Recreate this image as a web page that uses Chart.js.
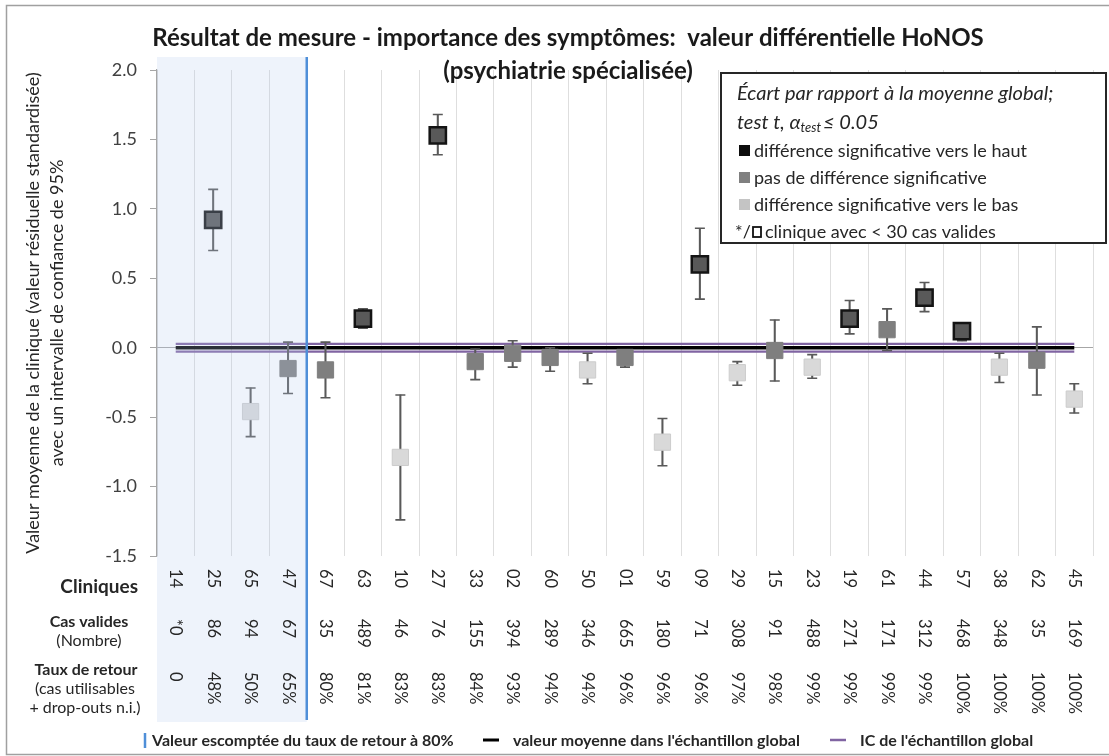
<!DOCTYPE html>
<html>
<head>
<meta charset="utf-8">
<title>HoNOS valeur différentielle</title>
<script src="https://cdn.jsdelivr.net/npm/chart.js@4.4.1/dist/chart.umd.min.js"></script>
<style>
  html, body { margin: 0; padding: 0; background: #fff; }
  #wrap { width: 1109px; height: 756px; position: relative; }
</style>
</head>
<body>
<div id="wrap"><canvas id="honosChart"></canvas></div>
<script>
// clinics, sorted by return rate
const clinics = ['14', '25', '65', '47', '67', '63', '10', '27', '33', '02', '60', '50', '01',
                 '59', '09', '29', '15', '23', '19', '61', '44', '57', '38', '62', '45'];
const casValides = ['*0', '86', '94', '67', '35', '489', '46', '76', '155', '394', '289', '346', '665',
                    '180', '71', '308', '91', '488', '271', '171', '312', '468', '348', '35', '169'];
const tauxRetour = ['0', '48%', '50%', '65%', '80%', '81%', '83%', '83%', '84%', '93%', '94%', '94%', '96%',
                    '96%', '96%', '97%', '98%', '99%', '99%', '99%', '99%', '100%', '100%', '100%', '100%'];

const means  = [null, 0.92, -0.46, -0.15, -0.16, 0.21, -0.79, 1.53, -0.10, -0.04, -0.07, -0.16, -0.07,
                -0.68, 0.60, -0.18, -0.02, -0.14, 0.21, 0.13, 0.36, 0.12, -0.14, -0.09, -0.37];
const ciHigh = [null, 1.14, -0.29, 0.04, 0.04, 0.28, -0.34, 1.68, -0.01, 0.05, 0.00, -0.04, -0.02,
                -0.51, 0.86, -0.10, 0.20, -0.05, 0.34, 0.28, 0.47, 0.18, -0.04, 0.15, -0.26];
const ciLow  = [null, 0.70, -0.64, -0.33, -0.36, 0.14, -1.24, 1.39, -0.23, -0.14, -0.17, -0.26, -0.14,
                -0.85, 0.35, -0.27, -0.24, -0.22, 0.10, -0.02, 0.26, 0.05, -0.25, -0.34, -0.47];
// up = significantly higher, ns = no difference, down = significantly lower
const signif = ['', 'up', 'down', 'ns', 'ns', 'up', 'down', 'up', 'ns', 'ns', 'ns', 'down', 'ns',
                'down', 'up', 'down', 'ns', 'down', 'up', 'ns', 'up', 'up', 'down', 'ns', 'down'];

const globalMean = 0.0;
const globalCI = [-0.028, 0.028];
const expectedRate = 80;

const yTicks = [-1.5, -1.0, -0.5, 0.0, 0.5, 1.0, 1.5, 2.0];

const FONT = 'Lato, "Noto Sans", sans-serif';
const TEXT = '#262626';

const fillFor = { up: '#595959', ns: '#7f7f7f', down: '#d9d9d9', '': 'transparent' };
const borderFor = { up: '#141414', ns: '#7f7f7f', down: '#cccccc', '': 'transparent' };
const borderWFor = { up: 2.5, ns: 1, down: 1, '': 0 };

const extrasPlugin = {
    id: 'extras',
    afterDraw(chart) {
        const { ctx, chartArea, scales: { x } } = chart;
        const half = (x.getPixelForValue(1) - x.getPixelForValue(0)) / 2;
        const cutIdx = tauxRetour.findIndex(t => parseInt(t, 10) >= expectedRate);
        const cutX = x.getPixelForValue(cutIdx) - half;

        ctx.save();
        // clinics below the expected return rate
        ctx.fillStyle = 'rgba(183, 204, 238, 0.235)';
        ctx.fillRect(chartArea.left, 57, cutX - chartArea.left, 722 - 57);
        ctx.strokeStyle = '#4f8fd8';
        ctx.lineWidth = 2.5;
        ctx.beginPath();
        ctx.moveTo(cutX, 57);
        ctx.lineTo(cutX, 720);
        ctx.stroke();

        // data table under the axis (rotated text)
        ctx.fillStyle = TEXT;
        ctx.font = '16.5px ' + FONT;
        ctx.textAlign = 'left';
        ctx.textBaseline = 'middle';
        const rows = [[clinics, 569], [casValides, 619], [tauxRetour, 672]];
        rows.forEach(([vals, top]) => {
            vals.forEach((v, i) => {
                ctx.save();
                ctx.translate(x.getPixelForValue(i), top);
                ctx.rotate(Math.PI / 2);
                ctx.fillText(v, 0, 0);
                ctx.restore();
            });
        });

        // row labels
        ctx.textAlign = 'right';
        ctx.font = 'bold 19px ' + FONT;
        ctx.fillText('Cliniques', 138, 587);
        ctx.textAlign = 'center';
        ctx.font = 'bold 16px ' + FONT;
        ctx.fillText('Cas valides', 89, 622);
        ctx.fillText('Taux de retour', 86, 670);
        ctx.font = '16px ' + FONT;
        ctx.fillText('(Nombre)', 89, 641);
        ctx.fillText('(cas utilisables', 85, 689);
        ctx.fillText('+ drop-outs n.i.)', 85, 708);

        // title
        ctx.font = 'bold 24px ' + FONT;
        ctx.fillStyle = '#1a1a1a';
        ctx.fillText('Résultat de mesure - importance des symptômes:  valeur différentielle HoNOS', 568, 38);
        ctx.fillText('(psychiatrie spécialisée)', 568, 71);

        // legend box
        ctx.fillStyle = '#fff';
        ctx.fillRect(721, 73, 385, 170);
        ctx.strokeStyle = '#262626';
        ctx.lineWidth = 2;
        ctx.strokeRect(721, 73, 385, 170);
        ctx.fillStyle = TEXT;
        ctx.textAlign = 'left';
        ctx.font = 'italic 20px ' + FONT;
        ctx.fillText('Écart par rapport à la moyenne global;', 737, 94);
        ctx.fillText('test t, α', 737, 123);
        let w = ctx.measureText('test t, α').width;
        ctx.font = 'italic 13px ' + FONT;
        ctx.fillText('test', 737 + w, 128);
        w += ctx.measureText('test').width + 2;
        ctx.font = 'italic 20px ' + FONT;
        ctx.fillText('≤ 0.05', 737 + w, 123);

        const items = [['#0d0d0d', 'différence significative vers le haut', 151],
                       ['#808080', 'pas de différence significative', 178],
                       ['#c4c4c4', 'différence significative vers le bas', 205]];
        ctx.font = '18px ' + FONT;
        items.forEach(([c, label, yy]) => {
            ctx.fillStyle = c;
            ctx.fillRect(739, yy - 6, 11, 11);
            ctx.fillStyle = TEXT;
            ctx.fillText(label, 754, yy);
        });
        ctx.fillText('*/', 735, 232);
        ctx.strokeStyle = '#111';
        ctx.lineWidth = 1.8;
        ctx.strokeRect(753, 227, 8, 10);
        ctx.fillText('clinique avec < 30 cas valides', 765, 232);

        // bottom legend
        ctx.font = 'bold 16px ' + FONT;
        ctx.strokeStyle = '#4f8fd8';
        ctx.lineWidth = 2.5;
        ctx.beginPath();
        ctx.moveTo(145, 733);
        ctx.lineTo(145, 748);
        ctx.stroke();
        ctx.fillText('Valeur escomptée du taux de retour à 80%', 152, 741);
        ctx.strokeStyle = '#000';
        ctx.lineWidth = 3;
        ctx.beginPath();
        ctx.moveTo(483, 740);
        ctx.lineTo(499, 740);
        ctx.stroke();
        ctx.fillText("valeur moyenne dans l'échantillon global", 513, 741);
        ctx.strokeStyle = '#8064a2';
        ctx.lineWidth = 2.5;
        ctx.beginPath();
        ctx.moveTo(830, 740);
        ctx.lineTo(846, 740);
        ctx.stroke();
        ctx.fillText("IC de l'échantillon global", 860, 741);

        // outer frame
        ctx.strokeStyle = '#a0a0a0';
        ctx.lineWidth = 1.5;
        ctx.strokeRect(6.5, 5.5, 1110, 749);
        ctx.restore();
    }
};

const ctx = document.getElementById('honosChart').getContext('2d');
new Chart(ctx, {
    type: 'bar',
    data: {
        labels: clinics,
        datasets: [
            {
                type: 'line',
                label: 'markers',
                data: means,
                showLine: false,
                pointStyle: 'rect',
                pointRadius: 11.5,
                pointBackgroundColor: signif.map(s => fillFor[s]),
                pointBorderColor: signif.map(s => borderFor[s]),
                pointBorderWidth: signif.map(s => borderWFor[s]),
                order: 0
            },
            {
                type: 'line',
                label: 'cap high',
                data: ciHigh,
                showLine: false,
                pointStyle: 'line',
                pointRadius: 5,
                pointBorderColor: '#595959',
                pointBorderWidth: 1.6,
                order: 1
            },
            {
                type: 'line',
                label: 'cap low',
                data: ciLow,
                showLine: false,
                pointStyle: 'line',
                pointRadius: 5,
                pointBorderColor: '#595959',
                pointBorderWidth: 1.6,
                order: 1
            },
            {
                label: 'IC 95%',
                data: ciLow.map((lo, i) => lo === null ? null : [lo, ciHigh[i]]),
                backgroundColor: '#595959',
                barThickness: 1.4,
                order: 2
            },
            {
                type: 'line',
                label: 'valeur moyenne',
                data: clinics.map(() => globalMean),
                borderColor: '#000',
                borderWidth: 3.5,
                pointRadius: 0,
                order: 3
            },
            {
                type: 'line',
                label: 'IC haut',
                data: clinics.map(() => globalCI[1]),
                borderColor: '#8064a2',
                borderWidth: 2.2,
                pointRadius: 0,
                order: 4
            },
            {
                type: 'line',
                label: 'IC bas',
                data: clinics.map(() => globalCI[0]),
                borderColor: '#8064a2',
                borderWidth: 2.2,
                pointRadius: 0,
                order: 4
            }
        ]
    },
    options: {
        responsive: true,
        maintainAspectRatio: false,
        animation: false,
        events: [],
        layout: { padding: { left: 6, right: 16, top: 70, bottom: 0 } },
        scales: {
            x: {
                offset: true,
                ticks: { display: false },
                grid: { offset: true, color: '#dedede', drawTicks: false },
                border: { display: false },
                afterFit: (scale) => { scale.height = 200; }
            },
            y: {
                min: -1.5,
                max: 2.0,
                afterBuildTicks: (scale) => { scale.ticks = yTicks.map(v => ({ value: v })); },
                ticks: {
                    color: '#404040',
                    font: { family: FONT, size: 18 },
                    padding: 13,
                    callback: (v) => v.toFixed(1)
                },
                grid: {
                    color: (c) => (c.tick && c.tick.value === 0 ? '#a6a6a6' : 'rgba(0,0,0,0)'),
                    tickColor: '#a6a6a6',
                    tickLength: 7
                },
                border: { color: '#a6a6a6', width: 1.2 },
                title: {
                    display: true,
                    text: ['Valeur moyenne de la clinique (valeur résiduelle standardisée)',
                           'avec un intervalle de confiance de 95%'],
                    color: TEXT,
                    font: { family: FONT, size: 18, lineHeight: '24px' },
                    padding: { top: 15, bottom: 0 }
                },
                afterFit: (scale) => { scale.width = 151; }
            }
        },
        plugins: {
            legend: { display: false },
            tooltip: { enabled: false }
        }
    },
    plugins: [extrasPlugin]
});
</script>
</body>
</html>
